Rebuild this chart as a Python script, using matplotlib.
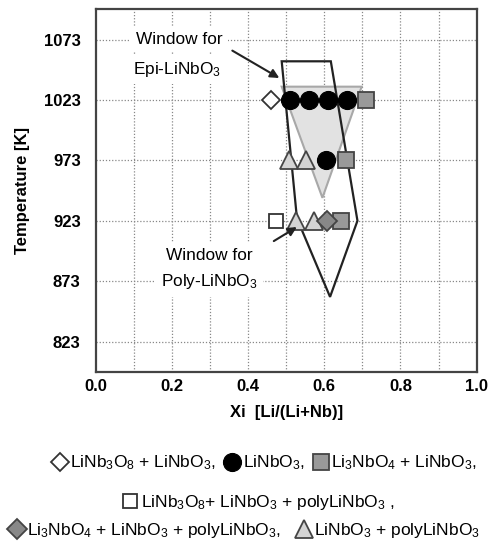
import matplotlib
matplotlib.use("Agg")
import matplotlib.pyplot as plt
from matplotlib.lines import Line2D
from matplotlib.patches import Polygon

plt.rcParams['font.family'] = ['Liberation Sans', 'DejaVu Sans']
plt.rcParams['mathtext.fontset'] = 'custom'
plt.rcParams['mathtext.rm'] = 'Liberation Sans'
plt.rcParams['mathtext.it'] = 'Liberation Sans:italic'
plt.rcParams['mathtext.bf'] = 'Liberation Sans:bold'
plt.rcParams['mathtext.default'] = 'rm'

# ---- data ----
yticks = [823, 873, 923, 973, 1023, 1073]
xticks = [0.0, 0.2, 0.4, 0.6, 0.8, 1.0]

# LiNb3O8 + LiNbO3 (open diamond)
open_diamond_x = [0.46]
open_diamond_T = [1023]
# LiNbO3 (black circle)
circle_x = [0.51, 0.56, 0.61, 0.66, 0.604]
circle_T = [1023, 1023, 1023, 1023, 973]
# Li3NbO4 + LiNbO3 (gray square)
gray_square_x = [0.709, 0.657, 0.645]
gray_square_T = [1023, 973, 923]
# LiNb3O8 + LiNbO3 + polyLiNbO3 (open square)
open_square_x = [0.472]
open_square_T = [923]
# Li3NbO4 + LiNbO3 + polyLiNbO3 (gray diamond)
gray_diamond_x = [0.606]
gray_diamond_T = [923]
# LiNbO3 + polyLiNbO3 (triangle)
tri_x = [0.508, 0.552, 0.525, 0.573]
tri_T = [973, 973, 923, 923]

# windows
epi_window_x = [0.488, 0.698, 0.595]
epi_window_T = [1034, 1034, 942]
poly_window_x = [0.488, 0.617, 0.687, 0.615, 0.528]
poly_window_T = [1055, 1055, 923, 860, 925]

labels = ["LiNb$_3$O$_8$ + LiNbO$_3$,", "LiNbO$_3$,", "Li$_3$NbO$_4$ + LiNbO$_3$,",
          "LiNb$_3$O$_8$+ LiNbO$_3$ + polyLiNbO$_3$ ,",
          "Li$_3$NbO$_4$ + LiNbO$_3$ + polyLiNbO$_3$,", "LiNbO$_3$ + polyLiNbO$_3$"]

fig = plt.figure(figsize=(4.97, 5.5), dpi=100)
ax = fig.add_axes([0.193, 0.324, 0.766, 0.659])
ax.set_xlim(0, 1.0)
ax.set_ylim(798, 1098)

for x in [0.1 * i for i in range(1, 10)]:
    ax.axvline(x, color='#888888', lw=0.9, ls=(0, (1, 1.5)), zorder=0)
for t in yticks:
    ax.axhline(t, color='#888888', lw=0.9, ls=(0, (1, 1.5)), zorder=0)

ax.add_patch(Polygon(list(zip(epi_window_x, epi_window_T)), closed=True,
                     facecolor='#e2e2e2', edgecolor='#a8a8a8', lw=1.5, zorder=1))
ax.add_patch(Polygon(list(zip(poly_window_x, poly_window_T)), closed=True,
                     facecolor='none', edgecolor='#222222', lw=1.6, zorder=2))

ms = dict(linestyle='none', zorder=3)
st_od = dict(marker='D', markersize=9, markerfacecolor='white', markeredgecolor='#333333', markeredgewidth=1.3)
st_c = dict(marker='o', markersize=13, markerfacecolor='black', markeredgecolor='black', markeredgewidth=0.8)
st_gs = dict(marker='s', markersize=12, markerfacecolor='#999999', markeredgecolor='#444444', markeredgewidth=1.3)
st_os = dict(marker='s', markersize=10, markerfacecolor='white', markeredgecolor='#333333', markeredgewidth=1.3)
st_gd = dict(marker='D', markersize=10, markerfacecolor='#888888', markeredgecolor='#444444', markeredgewidth=1.3)
st_t = dict(marker='^', markersize=13, markerfacecolor='#d4d4d4', markeredgecolor='#444444', markeredgewidth=1.3)

ax.plot(open_diamond_x, open_diamond_T, **st_od, **ms)
ax.plot(circle_x, circle_T, **st_c, **ms)
ax.plot(gray_square_x, gray_square_T, **st_gs, **ms)
ax.plot(open_square_x, open_square_T, **st_os, **ms)
ax.plot(tri_x, tri_T, **st_t, **ms)
ax.plot(gray_diamond_x, gray_diamond_T, **st_gd, **ms)

# annotations
bb = dict(facecolor='white', edgecolor='none', pad=4.0)
afs = 12.4
ax.text(0.219, 1069.4, "Window for", ha='center', va='baseline', fontsize=afs, bbox=bb, zorder=4)
ax.text(0.214, 1044.5, "Epi-LiNbO$_3$", ha='center', va='baseline', fontsize=afs, bbox=bb, zorder=4)
ax.text(0.297, 890.9, "Window for", ha='center', va='baseline', fontsize=afs, bbox=bb, zorder=4)
ax.text(0.297, 868.7, "Poly-LiNbO$_3$", ha='center', va='baseline', fontsize=afs, bbox=bb, zorder=4)
ax.annotate("", xy=(0.488, 1040), xytext=(0.352, 1065),
            arrowprops=dict(arrowstyle='-|>', color='#222222', lw=1.5, mutation_scale=13), zorder=5)
ax.annotate("", xy=(0.534, 919), xytext=(0.461, 905),
            arrowprops=dict(arrowstyle='-|>', color='#222222', lw=1.5, mutation_scale=13), zorder=5)

ax.set_xticks(xticks)
ax.set_xticklabels([f"{v:.1f}" for v in xticks])
ax.set_yticks(yticks)
ax.tick_params(length=0, labelsize=12)
ax.tick_params(axis='y', pad=11)
ax.tick_params(axis='x', pad=5)
for lab in ax.get_xticklabels() + ax.get_yticklabels():
    lab.set_fontweight('bold')
for s in ax.spines.values():
    s.set_color('#444444')
    s.set_linewidth(1.6)

ax.set_xlabel("Xi  [Li/(Li+Nb)]", fontsize=12, fontweight='bold', labelpad=8)
ax.set_ylabel("Temperature [K]", fontsize=12, fontweight='bold', labelpad=10)

def h(st):
    return Line2D([], [], linestyle='none', **st)

common = dict(frameon=False, fontsize=12.5, handlelength=0.9, handletextpad=0.15,
              borderaxespad=0, borderpad=0, loc='center')
fig.legend([h(st_od), h(st_c), h(st_gs)], labels[0:3], ncol=3, columnspacing=0.5,
           bbox_to_anchor=(0.532, 0.158), **common)
fig.legend([h(st_os)], labels[3:4], ncol=1,
           bbox_to_anchor=(0.52, 0.087), **common)
fig.legend([h(st_gd), h(st_t)], labels[4:6], ncol=2, columnspacing=0.85,
           bbox_to_anchor=(0.492, 0.036), **common)

fig.savefig("out.png", dpi=100)
